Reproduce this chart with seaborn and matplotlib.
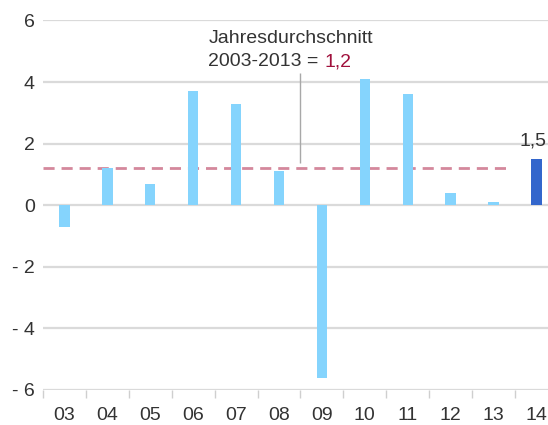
import pandas as pd
import matplotlib.pyplot as plt
import matplotlib.ticker as mticker
import matplotlib.transforms as mtransforms
import seaborn as sns

# Veraenderung gegenueber Vorjahr in %
jahre = ['03', '04', '05', '06', '07', '08', '09', '10', '11', '12', '13', '14']
werte = [-0.7, 1.2, 0.7, 3.7, 3.3, 1.1, -5.6, 4.1, 3.6, 0.4, 0.1, 1.5]
farben = ['#85d4fd'] * 11 + ['#3366cc']
durchschnitt = 1.2
yticks = [-6, -4, -2, 0, 2, 4, 6]
yticklabels = ['- 6', '- 4', '- 2', '0', '2', '4', '6']

sns.set_style("white")
plt.rcParams['font.family'] = ['Liberation Sans', 'DejaVu Sans']

df = pd.DataFrame({'Jahr': jahre, 'Wert': werte})

fig = plt.figure(figsize=(5.48, 4.25), dpi=100)
ax = fig.add_axes([0.0785, 0.0824, 0.9215, 0.8694])

sns.barplot(data=df, x='Jahr', y='Wert', hue='Jahr', palette=farben,
            width=0.24, saturation=1, linewidth=0, legend=False, ax=ax, zorder=3)

ax.set_xlim(-0.5, 11.27)
ax.set_ylim(-6, 6)
ax.set_yticks(yticks)
ax.set_yticklabels(yticklabels)
ax.yaxis.grid(True, color='#dadada', linewidth=1.6, zorder=0)
ax.set_axisbelow(True)
for s in ax.spines.values():
    s.set_visible(False)

ax.set_xlabel('')
ax.set_ylabel('')
ax.tick_params(axis='both', colors='#333333', labelsize=14)
ax.tick_params(axis='x', length=0, pad=12)
ax.tick_params(axis='y', length=0, pad=6)
ax.xaxis.set_minor_locator(mticker.FixedLocator([i - 0.5 for i in range(len(jahre) + 1)]))
ax.tick_params(axis='x', which='minor', bottom=True, length=6, width=1, color='#cfcfcf', direction='out')

# Durchschnittslinie (hinter den Balken)
ax.hlines(durchschnitt, -0.5, 10.3, colors='#d4889c', linestyles=(0, (4, 2.5)), linewidth=2, zorder=2)
ax.vlines(5.49, 1.36, 4.29, colors='#a8a8a8', linewidth=1, zorder=4)

ax.text(3.35, 5.26, 'Jahresdurchschnitt', fontsize=14, color='#333333', va='baseline')
t = ax.text(3.35, 4.38, '2003-2013 =', fontsize=14, color='#333333', va='bottom')
ax.annotate('1,2', xy=(1, 0), xycoords=t, xytext=(4, 0), textcoords='offset points',
            fontsize=14, color='#a0103c', va='bottom', ha='left')

# Wert fuer 2014 (am rechten Rand)
trans = mtransforms.blended_transform_factory(ax.transAxes, ax.transData)
ax.text(0.997, werte[-1] + 0.3, '1,5', fontsize=14, color='#333333',
        ha='right', va='bottom', transform=trans)

plt.savefig("out.png", dpi=100)
